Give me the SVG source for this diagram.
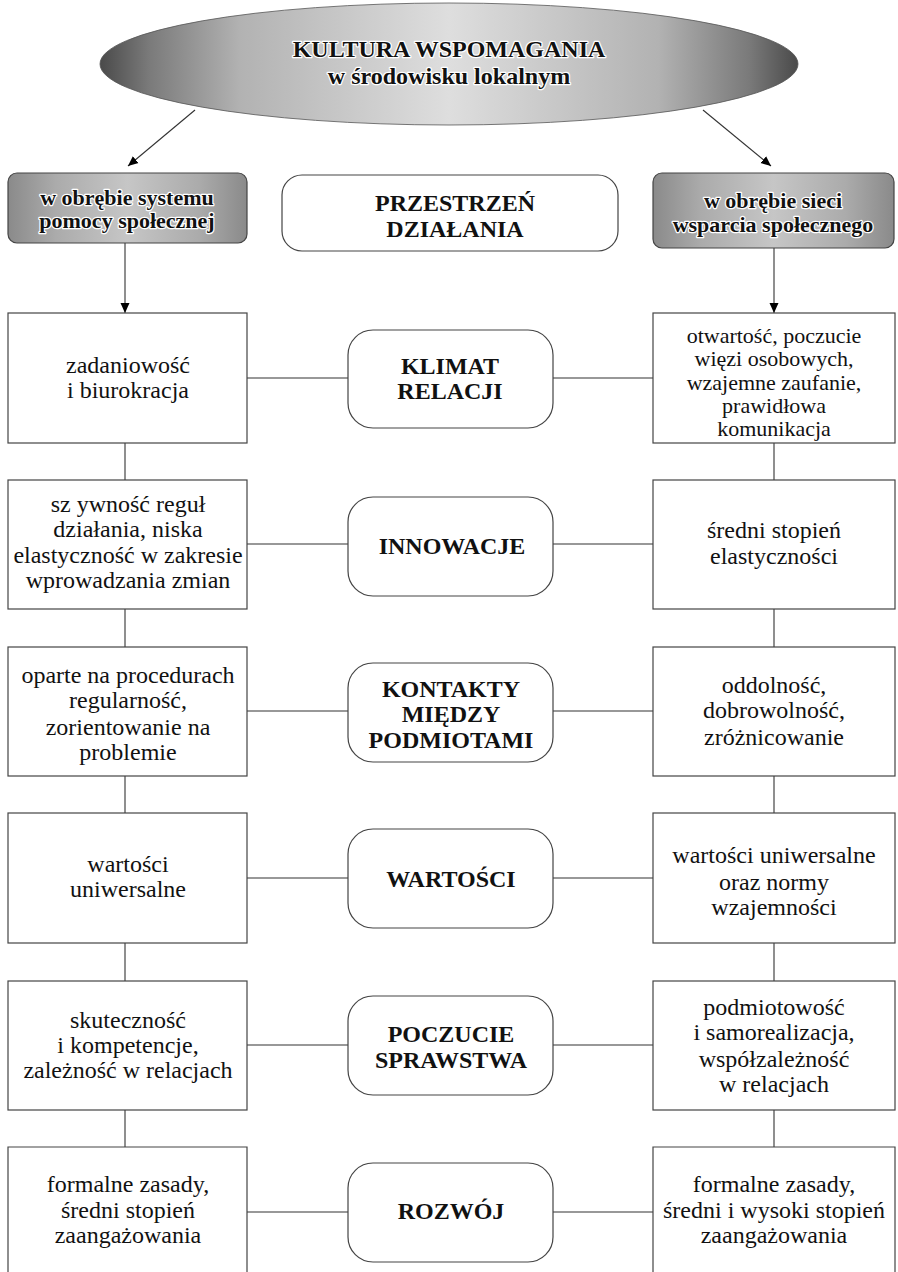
<svg xmlns="http://www.w3.org/2000/svg" width="898" height="1272" viewBox="0 0 898 1272">
  <defs>
    <linearGradient id="gEllipse" x1="0" y1="0" x2="1" y2="0">
      <stop offset="0" stop-color="#4a4a4a"/>
      <stop offset="0.07" stop-color="#7a7a7a"/>
      <stop offset="0.2" stop-color="#b2b2b2"/>
      <stop offset="0.5" stop-color="#dedede"/>
      <stop offset="0.8" stop-color="#b2b2b2"/>
      <stop offset="0.93" stop-color="#7a7a7a"/>
      <stop offset="1" stop-color="#4a4a4a"/>
    </linearGradient>
    <linearGradient id="gHead" x1="0" y1="0" x2="1" y2="0">
      <stop offset="0" stop-color="#8a8a8a"/>
      <stop offset="0.2" stop-color="#ababab"/>
      <stop offset="0.5" stop-color="#c6c6c6"/>
      <stop offset="0.8" stop-color="#ababab"/>
      <stop offset="1" stop-color="#8a8a8a"/>
    </linearGradient>
    <marker id="arrow" viewBox="0 0 10 10" refX="10" refY="5" markerWidth="10" markerHeight="10" markerUnits="userSpaceOnUse" orient="auto">
      <path d="M0,0.5 L10,5 L0,9.5 Z" fill="#000"/>
    </marker>
  </defs>
  <style>
    text { font-family: "Liberation Serif", "DejaVu Serif", serif; fill: #111; text-anchor: middle; }
    .body { font-size: 24px; }
    .tight { font-size: 22px; }
    .bold { font-size: 24px; font-weight: bold; }
    .halo { font-size: 24px; font-weight: bold; stroke: #fff; stroke-width: 2.5; stroke-linejoin: round; paint-order: stroke; }
    .hhalo { font-size: 22px; font-weight: bold; stroke: #fff; stroke-width: 2.5; stroke-linejoin: round; paint-order: stroke; }
    .box { fill: #fff; stroke: #444; stroke-width: 1.2; }
    .rbox { fill: #fff; stroke: #444; stroke-width: 1.2; }
    .head { fill: url(#gHead); stroke: #444; stroke-width: 1.2; }
    .link { fill: none; stroke: #333; stroke-width: 1.1; }
  </style>

  <rect width="898" height="1272" fill="#fff"/>

  <!-- connectors -->
  <g id="connectors">
    <line class="link" x1="195" y1="110" x2="128" y2="166" marker-end="url(#arrow)"/>
    <line class="link" x1="703" y1="110" x2="771" y2="166" marker-end="url(#arrow)"/>
    <line class="link" x1="125" y1="243" x2="125" y2="313" marker-end="url(#arrow)"/>
    <line class="link" x1="774" y1="248" x2="774" y2="313" marker-end="url(#arrow)"/>
    <!-- left column verticals -->
    <line class="link" x1="125" y1="443" x2="125" y2="480"/>
    <line class="link" x1="125" y1="609" x2="125" y2="647"/>
    <line class="link" x1="125" y1="776" x2="125" y2="813"/>
    <line class="link" x1="125" y1="943" x2="125" y2="981"/>
    <line class="link" x1="125" y1="1110" x2="125" y2="1147"/>
    <!-- right column verticals -->
    <line class="link" x1="774" y1="443" x2="774" y2="480"/>
    <line class="link" x1="774" y1="609" x2="774" y2="647"/>
    <line class="link" x1="774" y1="776" x2="774" y2="813"/>
    <line class="link" x1="774" y1="943" x2="774" y2="981"/>
    <line class="link" x1="774" y1="1110" x2="774" y2="1147"/>
    <!-- horizontals -->
    <line class="link" x1="247" y1="378" x2="348" y2="378"/>
    <line class="link" x1="553" y1="378" x2="653" y2="378"/>
    <line class="link" x1="247" y1="544" x2="348" y2="544"/>
    <line class="link" x1="553" y1="544" x2="653" y2="544"/>
    <line class="link" x1="247" y1="711" x2="348" y2="711"/>
    <line class="link" x1="553" y1="711" x2="653" y2="711"/>
    <line class="link" x1="247" y1="878" x2="348" y2="878"/>
    <line class="link" x1="553" y1="878" x2="653" y2="878"/>
    <line class="link" x1="247" y1="1045" x2="348" y2="1045"/>
    <line class="link" x1="553" y1="1045" x2="653" y2="1045"/>
    <line class="link" x1="247" y1="1212" x2="348" y2="1212"/>
    <line class="link" x1="553" y1="1212" x2="653" y2="1212"/>
  </g>

  <!-- title -->
  <g id="title">
    <ellipse cx="449" cy="64" rx="349" ry="61" fill="url(#gEllipse)" stroke="#555" stroke-width="0.8"/>
    <text class="halo" x="449" y="57">KULTURA WSPOMAGANIA</text>
    <text class="halo" x="449" y="84">w środowisku lokalnym</text>
  </g>

  <!-- headers -->
  <g id="head-left">
    <rect class="head" x="8" y="173" width="239" height="70" rx="9"/>
    <text class="hhalo" x="127" y="205">w obrębie systemu</text>
    <text class="hhalo" x="127" y="228">pomocy społecznej</text>
  </g>
  <g id="head-center">
    <rect class="rbox" x="282" y="175" width="336" height="76" rx="20"/>
    <text class="bold" x="455" y="211">PRZESTRZEŃ</text>
    <text class="bold" x="455" y="237">DZIAŁANIA</text>
  </g>
  <g id="head-right">
    <rect class="head" x="653" y="173" width="241" height="75" rx="9"/>
    <text class="hhalo" x="773" y="208">w obrębie sieci</text>
    <text class="hhalo" x="773" y="232">wsparcia społecznego</text>
  </g>

  <!-- row 1 -->
  <g id="r1-left">
    <rect class="box" x="8" y="313" width="239" height="130"/>
    <text class="body" x="128" y="373">zadaniowość</text>
    <text class="body" x="128" y="398">i biurokracja</text>
  </g>
  <g id="r1-center">
    <rect class="rbox" x="348" y="330" width="205" height="98" rx="25"/>
    <text class="bold" x="450" y="374">KLIMAT</text>
    <text class="bold" x="450" y="399">RELACJI</text>
  </g>
  <g id="r1-right">
    <rect class="box" x="653" y="313" width="242" height="130"/>
    <text class="tight" x="774" y="343">otwartość, poczucie</text>
    <text class="tight" x="774" y="366">więzi osobowych,</text>
    <text class="tight" x="774" y="390">wzajemne zaufanie,</text>
    <text class="tight" x="774" y="413">prawidłowa</text>
    <text class="tight" x="774" y="436">komunikacja</text>
  </g>

  <!-- row 2 -->
  <g id="r2-left">
    <rect class="box" x="8" y="480" width="239" height="129"/>
    <text class="body" x="128" y="512">sz ywność reguł</text>
    <text class="body" x="128" y="537">działania, niska</text>
    <text class="body" x="128" y="563">elastyczność w zakresie</text>
    <text class="body" x="128" y="588">wprowadzania zmian</text>
  </g>
  <g id="r2-center">
    <rect class="rbox" x="348" y="497" width="205" height="99" rx="25"/>
    <text class="bold" x="452" y="554">INNOWACJE</text>
  </g>
  <g id="r2-right">
    <rect class="box" x="653" y="480" width="242" height="129"/>
    <text class="body" x="774" y="538">średni stopień</text>
    <text class="body" x="774" y="564">elastyczności</text>
  </g>

  <!-- row 3 -->
  <g id="r3-left">
    <rect class="box" x="8" y="647" width="239" height="129"/>
    <text class="body" x="128" y="683">oparte na procedurach</text>
    <text class="body" x="128" y="708">regularność,</text>
    <text class="body" x="128" y="735">zorientowanie na</text>
    <text class="body" x="128" y="760">problemie</text>
  </g>
  <g id="r3-center">
    <rect class="rbox" x="348" y="663" width="205" height="99" rx="25"/>
    <text class="bold" x="451" y="697">KONTAKTY</text>
    <text class="bold" x="451" y="722">MIĘDZY</text>
    <text class="bold" x="451" y="748">PODMIOTAMI</text>
  </g>
  <g id="r3-right">
    <rect class="box" x="653" y="647" width="242" height="129"/>
    <text class="body" x="774" y="693">oddolność,</text>
    <text class="body" x="774" y="718">dobrowolność,</text>
    <text class="body" x="774" y="745">zróżnicowanie</text>
  </g>

  <!-- row 4 -->
  <g id="r4-left">
    <rect class="box" x="8" y="813" width="239" height="130"/>
    <text class="body" x="128" y="872">wartości</text>
    <text class="body" x="128" y="897">uniwersalne</text>
  </g>
  <g id="r4-center">
    <rect class="rbox" x="348" y="829" width="205" height="99" rx="25"/>
    <text class="bold" x="451" y="887">WARTOŚCI</text>
  </g>
  <g id="r4-right">
    <rect class="box" x="653" y="813" width="242" height="130"/>
    <text class="body" x="774" y="863">wartości uniwersalne</text>
    <text class="body" x="774" y="890">oraz normy</text>
    <text class="body" x="774" y="915">wzajemności</text>
  </g>

  <!-- row 5 -->
  <g id="r5-left">
    <rect class="box" x="8" y="981" width="239" height="129"/>
    <text class="body" x="128" y="1028">skuteczność</text>
    <text class="body" x="128" y="1053">i kompetencje,</text>
    <text class="body" x="128" y="1078">zależność w relacjach</text>
  </g>
  <g id="r5-center">
    <rect class="rbox" x="348" y="996" width="205" height="99" rx="25"/>
    <text class="bold" x="451" y="1042">POCZUCIE</text>
    <text class="bold" x="451" y="1068">SPRAWSTWA</text>
  </g>
  <g id="r5-right">
    <rect class="box" x="653" y="981" width="242" height="129"/>
    <text class="body" x="774" y="1015">podmiotowość</text>
    <text class="body" x="774" y="1040">i samorealizacja,</text>
    <text class="body" x="774" y="1067">współzależność</text>
    <text class="body" x="774" y="1092">w relacjach</text>
  </g>

  <!-- row 6 (runs off the bottom edge) -->
  <g id="r6-left">
    <path class="box" d="M8,1274 V1147 H247 V1274"/>
    <text class="body" x="128" y="1192">formalne zasady,</text>
    <text class="body" x="128" y="1218">średni stopień</text>
    <text class="body" x="128" y="1243">zaangażowania</text>
  </g>
  <g id="r6-center">
    <rect class="rbox" x="348" y="1163" width="205" height="99" rx="25"/>
    <text class="bold" x="451" y="1219">ROZWÓJ</text>
  </g>
  <g id="r6-right">
    <path class="box" d="M653,1274 V1147 H895 V1274"/>
    <text class="body" x="774" y="1192">formalne zasady,</text>
    <text class="body" x="774" y="1218">średni i wysoki stopień</text>
    <text class="body" x="774" y="1243">zaangażowania</text>
  </g>
</svg>
